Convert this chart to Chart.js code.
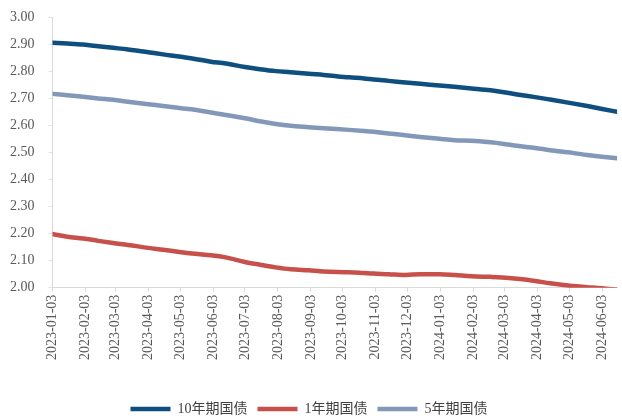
<!DOCTYPE html>
<html>
<head>
<meta charset="utf-8">
<script src="https://cdn.jsdelivr.net/npm/chart.js@4.4.1/dist/chart.umd.min.js"></script>
<style>
  html, body { margin: 0; padding: 0; background: #fff; }
  #wrap { width: 622px; height: 419px; }
</style>
</head>
<body>
<div id="wrap"><canvas id="yieldChart" width="622" height="419"></canvas></div>
<script>
// 国债收益率 (%), sampled roughly twice a month
const dates = [
  '2023-01-03', '2023-01-17', '2023-02-01', '2023-02-15', '2023-03-01', '2023-03-15',
  '2023-04-03', '2023-04-17', '2023-05-04', '2023-05-17', '2023-06-01', '2023-06-15',
  '2023-07-03', '2023-07-17', '2023-08-01', '2023-08-15', '2023-09-01', '2023-09-15',
  '2023-10-09', '2023-10-23', '2023-11-01', '2023-11-15', '2023-12-01', '2023-12-15',
  '2024-01-02', '2024-01-16', '2024-02-01', '2024-02-19', '2024-03-01', '2024-03-15',
  '2024-04-01', '2024-04-15', '2024-05-06', '2024-05-20', '2024-06-03', '2024-06-17'
];
const yield10y = [
  2.905, 2.902, 2.898, 2.892, 2.886, 2.880, 2.870, 2.862, 2.853, 2.845, 2.835, 2.828,
  2.815, 2.807, 2.800, 2.796, 2.790, 2.786, 2.777, 2.773, 2.769, 2.764, 2.758, 2.753,
  2.747, 2.742, 2.736, 2.729, 2.723, 2.714, 2.704, 2.695, 2.681, 2.671, 2.660, 2.650
];
const yield1y = [
  2.198, 2.188, 2.182, 2.173, 2.165, 2.158, 2.147, 2.140, 2.131, 2.125, 2.120, 2.112,
  2.095, 2.085, 2.075, 2.068, 2.064, 2.060, 2.057, 2.054, 2.052, 2.050, 2.047, 2.050,
  2.050, 2.047, 2.042, 2.040, 2.038, 2.033, 2.025, 2.016, 2.006, 2.002, 1.998, 1.992
];
const yield5y = [
  2.716, 2.711, 2.705, 2.699, 2.694, 2.687, 2.678, 2.671, 2.663, 2.657, 2.647, 2.638,
  2.626, 2.615, 2.605, 2.598, 2.593, 2.589, 2.583, 2.579, 2.576, 2.570, 2.563, 2.557,
  2.550, 2.545, 2.543, 2.537, 2.532, 2.524, 2.516, 2.508, 2.498, 2.490, 2.484, 2.478
];
const tickLabels = [
  '2023-01-03', '2023-02-03', '2023-03-03', '2023-04-03', '2023-05-03', '2023-06-03',
  '2023-07-03', '2023-08-03', '2023-09-03', '2023-10-03', '2023-11-03', '2023-12-03',
  '2024-01-03', '2024-02-03', '2024-03-03', '2024-04-03', '2024-05-03', '2024-06-03'
];

const DAY = 86400000;
const origin = Date.parse(tickLabels[0]);
function dayOf(s) {
  return Math.round((Date.parse(s) - origin) / DAY);
}
const tickDays = tickLabels.map(dayOf);

function toPoints(values) {
  return values.map((v, i) => ({ x: dayOf(dates[i]), y: v }));
}

const fontFamily = "'Liberation Serif', 'Noto Sans CJK SC', serif";

function series(label, values, color) {
  return {
    label: label,
    data: toPoints(values),
    borderColor: color,
    backgroundColor: color,
    borderWidth: 4.5,
    borderCapStyle: 'round',
    pointRadius: 0,
    cubicInterpolationMode: 'monotone'
  };
}

new Chart(document.getElementById('yieldChart'), {
  type: 'line',
  data: {
    datasets: [
      series('10年期国债', yield10y, '#0e4f80'),
      series('1年期国债', yield1y, '#c8504b'),
      series('5年期国债', yield5y, '#8398b9')
    ]
  },
  options: {
    responsive: false,
    animation: false,
    devicePixelRatio: 1,
    layout: {
      padding: { top: 0, left: -4, right: 0, bottom: -7 }
    },
    plugins: {
      tooltip: { enabled: false },
      legend: {
        position: 'bottom',
        labels: {
          usePointStyle: true,
          pointStyle: 'line',
          pointStyleWidth: 40,
          padding: 10,
          color: '#404040',
          font: { family: fontFamily, size: 14 }
        }
      }
    },
    scales: {
      x: {
        type: 'linear',
        min: 0,
        max: dayOf('2024-06-17'),
        offset: false,
        afterBuildTicks: function (scale) {
          scale.ticks = tickDays.map(v => ({ value: v }));
        },
        afterFit: function (scale) {
          scale.height += 29;
        },
        ticks: {
          autoSkip: false,
          minRotation: 90,
          maxRotation: 90,
          padding: 3,
          color: '#595959',
          font: { family: fontFamily, size: 14 },
          callback: (value, index) => tickLabels[index]
        },
        grid: {
          drawOnChartArea: false,
          tickLength: 4,
          color: '#d9d9d9'
        },
        border: { color: '#d9d9d9' }
      },
      y: {
        min: 2,
        max: 3,
        // keep the top of the plot close to the edge; the wide tick padding would push it down
        afterFit: function (scale) {
          scale.paddingTop = 17;
        },
        ticks: {
          stepSize: 0.1,
          padding: 14,
          color: '#595959',
          font: { family: fontFamily, size: 14 },
          callback: v => v.toFixed(2)
        },
        grid: {
          drawOnChartArea: false,
          tickLength: 4,
          color: '#e3e3e3'
        },
        border: { color: '#d9d9d9' }
      }
    }
  }
});
</script>
</body>
</html>
